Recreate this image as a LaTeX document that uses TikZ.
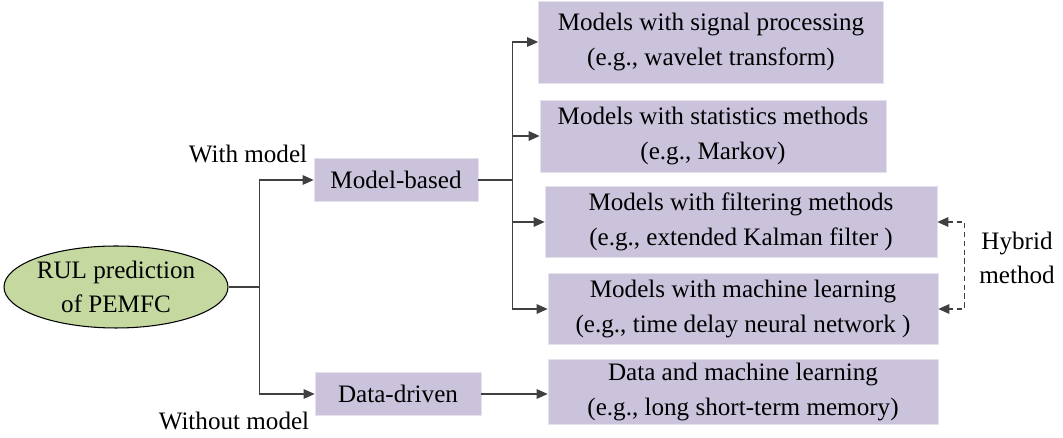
\documentclass[tikz,border=0pt]{standalone}
\usepackage{fontspec}
\setmainfont{Liberation Serif}
\usetikzlibrary{arrows.meta,shapes.geometric}
\definecolor{boxfill}{RGB}{203,195,220}
\definecolor{rootfill}{RGB}{197,216,160}
\definecolor{linegray}{RGB}{64,64,64}
\begin{document}
\begin{tikzpicture}[x=0.02cm, y=-0.02cm,
    every node/.style={font=\fontsize{14.3}{19.8}\selectfont},
    box/.style={fill=boxfill, draw=boxfill!50!white, line width=0.4pt,
      align=center, inner sep=0pt},
    link/.style={draw=linegray, line width=0.8pt,
      -{Triangle[length=2.2mm,width=1.9mm]}},
    hybrid/.style={draw=linegray, line width=0.8pt, dash pattern=on 3pt off 2pt,
      {Triangle[length=2.2mm,width=1.9mm]}-{Triangle[length=2.2mm,width=1.9mm]}}]
  % Picture frame
  \useasboundingbox (0,0) rectangle (1063,438);

  % Root node
  \node[ellipse, draw=black, line width=0.6pt, fill=rootfill, align=center,
    minimum width=4.32cm, minimum height=1.64cm, inner sep=0pt]
    (rul) at (116,287) {RUL prediction\\of PEMFC};

  % Second level
  \node[box, minimum width=3.28cm, minimum height=0.86cm] (mb) at (396,180) {Model-based};
  \node[box, minimum width=3.32cm, minimum height=0.86cm] (dd) at (398,394) {Data-driven};

  % Third level
  \node[box, minimum width=6.9cm, minimum height=1.64cm] (box1) at (711,42)
    {Models with signal processing\\(e.g., wavelet transform)};
  \node[box, minimum width=6.92cm, minimum height=1.44cm] (box2) at (713,136)
    {Models with statistics methods\\(e.g., Markov)};
  \node[box, minimum width=7.84cm, minimum height=1.42cm] (box3) at (741,222)
    {Models with filtering methods\\(e.g., extended Kalman filter )};
  \node[box, minimum width=7.8cm, minimum height=1.42cm] (box4) at (743,309)
    {Models with machine learning\\(e.g., time delay neural network )};
  \node[box, minimum width=7.8cm, minimum height=1.3cm] (box5) at (743,392)
    {Data and machine learning\\(e.g., long short-term memory)};

  % Branch labels
  \node (with) at (248,154) {With model};
  \node (without) at (234,421) {Without model};
  \node[align=center] (hyb) at (1017,258) {Hybrid\\method};

  % Connections from the root
  \draw[draw=linegray, line width=0.8pt] (rul.east) -- ++(31,0) coordinate (split);
  \draw[link] (split) |- (mb.west);
  \draw[link] (split) |- (dd.west);

  % Connections from the model-based node
  \draw[draw=linegray, line width=0.8pt] (mb.east) -- ++(34,0) coordinate (fork);
  \foreach \n in {1,...,4}{
      \draw[link] (fork) |- (box\n.west);
    }

  % Connection from the data-driven node
  \draw[link] (dd.east) -- (dd.east -| box5.west);

  % Hybrid bracket
  \draw[hybrid] (box3.east) -- ++(27,0) |- (box4.east);
\end{tikzpicture}
\end{document}
